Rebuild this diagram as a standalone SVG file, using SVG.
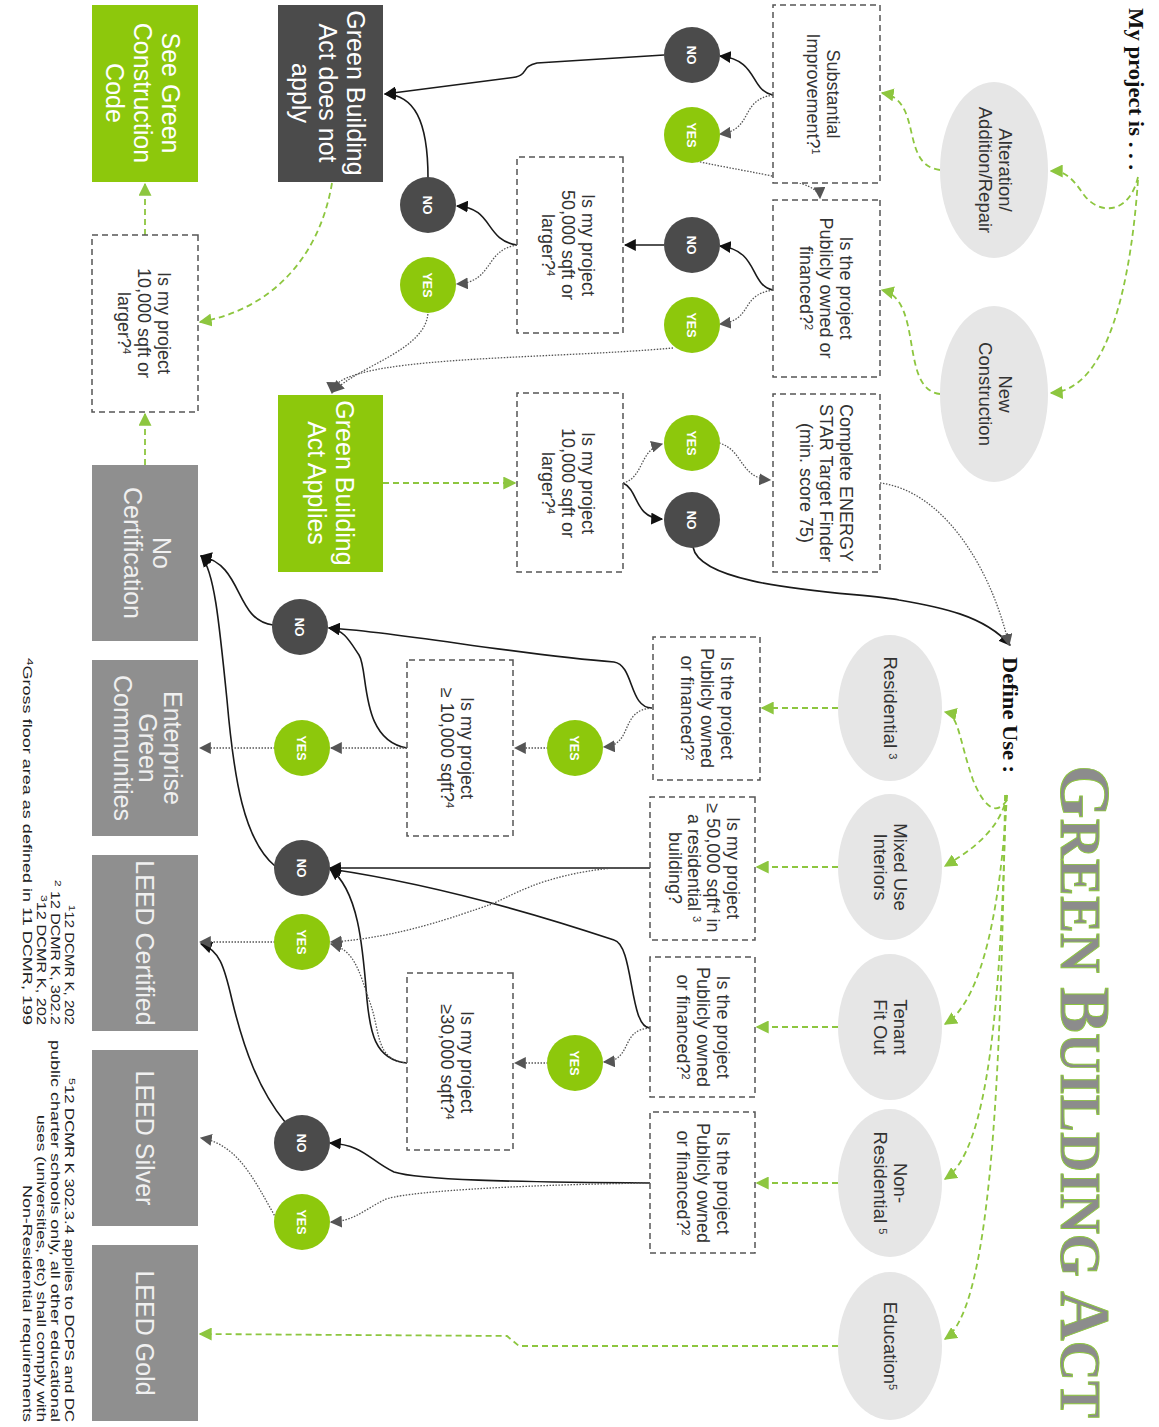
<svg xmlns="http://www.w3.org/2000/svg" width="1159" height="1427" viewBox="0 0 1159 1427">
<defs>
<style>
.t{font-family:"Liberation Sans",Arial,sans-serif;font-size:18px;fill:#333;text-anchor:middle}
.te{font-family:"Liberation Sans",Arial,sans-serif;font-size:18.5px;fill:#333;text-anchor:middle}
.big{font-family:"Liberation Sans",Arial,sans-serif;font-size:25px;fill:#fff;text-anchor:middle}
.bigl{font-family:"Liberation Sans",Arial,sans-serif;font-size:25px;fill:#f0f0f0;text-anchor:middle}
.c{font-family:"Liberation Sans",Arial,sans-serif;font-size:12.5px;font-weight:bold;fill:#fff;text-anchor:middle}
.q{fill:#fff;stroke:#555;stroke-width:1.5;stroke-dasharray:6 4}
.ell{fill:#e6e6e6}
.no{fill:#4b4b4b}
.yes{fill:#8dc80c}
.dk{fill:#4b4b4b}
.gr{fill:#8dc80c}
.gy{fill:#8f8f8f}
.s{fill:none;stroke:#1a1a1a;stroke-width:1.6;marker-end:url(#ab)}
.d{fill:none;stroke:#555;stroke-width:1.3;stroke-dasharray:1.5 1.5;marker-end:url(#ad)}
.g{fill:none;stroke:#8dc63f;stroke-width:1.8;stroke-dasharray:6 4;marker-end:url(#ag)}
.fn{font-family:"Liberation Sans",Arial,sans-serif;font-size:12px;fill:#222}
.hd{font-family:"Liberation Serif","Times New Roman",serif;font-weight:bold;fill:#111}
.sup{font-size:11px}
.fsup{font-size:9px}
</style>
<marker id="ab" viewBox="0 0 10 10" refX="9" refY="5" markerWidth="12" markerHeight="12" markerUnits="userSpaceOnUse" orient="auto"><path d="M0,0 L10,5 L0,10 z" fill="#111"/></marker>
<marker id="ad" viewBox="0 0 10 10" refX="9" refY="5" markerWidth="12" markerHeight="12" markerUnits="userSpaceOnUse" orient="auto"><path d="M0,0 L10,5 L0,10 z" fill="#555"/></marker>
<marker id="ag" viewBox="0 0 10 10" refX="9" refY="5" markerWidth="13" markerHeight="13" markerUnits="userSpaceOnUse" orient="auto"><path d="M0,0 L10,5 L0,10 z" fill="#8dc63f"/></marker>
</defs>
<rect width="1159" height="1427" fill="#fff"/>
<g transform="translate(1159,0) rotate(90)">

<g id="title">
<text x="765" y="98" font-family="Liberation Serif,'Times New Roman',serif" font-weight="bold" fill="#8c8c8c" stroke="#8dc63f" stroke-width="1" textLength="653" lengthAdjust="spacingAndGlyphs"><tspan font-size="72">G</tspan><tspan font-size="58">REEN </tspan><tspan font-size="72">B</tspan><tspan font-size="58">UILDING </tspan><tspan font-size="72">A</tspan><tspan font-size="58">CT</tspan></text>
</g>

<g id="connectors">
<path class="g" d="M177,21 C215,30 215,60 195,75 C176,88 171,95 171,108"/>
<path class="g" d="M180,21 C280,28 390,50 393,108"/>
<path class="g" d="M170,219 C165,260 100,235 93,277"/>
<path class="g" d="M394,219 C389,260 300,235 290,277"/>
<path class="g" d="M800,152 C820,165 800,178 780,186 C740,200 715,200 712,214"/>
<path class="g" d="M795,152 C830,158 852,190 866,214"/>
<path class="g" d="M795,152 C900,158 1000,175 1024,214"/>
<path class="g" d="M795,153 C1000,158 1150,170 1179,214"/>
<path class="g" d="M795,154 C1100,158 1310,170 1339,214"/>
<path class="g" d="M708,321 L708,397"/>
<path class="g" d="M867,321 L867,402"/>
<path class="g" d="M1027,321 L1027,402"/>
<path class="g" d="M1183,321 L1183,402"/>
<path class="g" d="M1346,321 L1346,640 L1336,652 L1334,959"/>
<path class="g" d="M483,776 L483,644"/>
<path class="g" d="M183,827 C260,840 310,890 322,959"/>
<path class="g" d="M235,1014 L184,1014"/>
<path class="g" d="M465,1014 L414,1014"/>
<path class="s" d="M95,386 C90,410 60,400 56,439"/>
<path class="s" d="M290,386 C285,410 250,400 246,439"/>
<path class="s" d="M55,495 L63,622 C67,640 76,628 78,650 L94,774"/>
<path class="s" d="M245,495 L245,534"/>
<path class="s" d="M245,642 C240,675 208,665 206,702"/>
<path class="s" d="M178,731 C120,731 95,745 94,774"/>
<path class="s" d="M483,536 C490,520 518,525 519,497"/>
<path class="s" d="M547,466 C590,458 592,300 600,260 C607,220 615,175 645,149"/>
<path class="s" d="M708,507 C708,530 665,525 662,545 C655,640 632,760 628,830"/>
<path class="s" d="M748,752 C740,800 670,790 655,800 C640,810 630,815 628,830"/>
<path class="s" d="M625,886 C620,925 565,915 556,958"/>
<path class="s" d="M868,509 L868,829"/>
<path class="s" d="M1028,509 C1028,530 945,525 940,545 C915,620 885,720 869,829"/>
<path class="s" d="M1063,752 C1060,785 1030,789 1000,792 C950,796 890,800 869,829"/>
<path class="s" d="M866,884 C840,915 780,925 700,932 C620,940 570,945 556,958"/>
<path class="s" d="M1183,509 C1182,650 1180,740 1172,765 C1160,790 1145,795 1143,829"/>
<path class="s" d="M1122,874 C1090,900 1050,915 1000,927 C965,935 950,940 944,958"/>
<path class="d" d="M95,386 C100,420 130,405 134,439"/>
<path class="d" d="M160,468 C175,400 180,340 198,339"/>
<path class="d" d="M290,386 C295,420 320,405 324,439"/>
<path class="d" d="M348,486 C360,620 355,826 393,827"/>
<path class="d" d="M245,642 C250,675 282,665 284,702"/>
<path class="d" d="M311,731 C350,731 365,800 392,826"/>
<path class="d" d="M483,536 C478,515 450,520 444,497"/>
<path class="d" d="M443,440 C450,415 478,420 480,389"/>
<path class="d" d="M483,279 C490,220 560,170 645,150"/>
<path class="d" d="M708,507 C710,540 745,525 747,555"/>
<path class="d" d="M748,611 L748,644"/>
<path class="d" d="M748,752 L748,828"/>
<path class="d" d="M748,884 L748,959"/>
<path class="d" d="M868,509 L868,546 C875,620 898,650 905,670 C915,700 938,760 942,828"/>
<path class="d" d="M1028,509 C1030,540 1060,525 1062,555"/>
<path class="d" d="M1063,611 L1063,644"/>
<path class="d" d="M1063,752 C1060,785 1030,778 1000,790 C970,800 950,805 944,828"/>
<path class="d" d="M942,884 L942,959"/>
<path class="d" d="M1183,509 C1185,650 1192,760 1200,775 C1210,795 1221,805 1222,828"/>
<path class="d" d="M1218,883 C1180,905 1145,920 1138,958"/>
</g>

<g id="my-project"><text class="hd" x="8" y="30" font-size="20" textLength="162" lengthAdjust="spacingAndGlyphs">My project is . . .</text></g>
<g id="define-use"><text class="hd" x="657" y="156" font-size="22" textLength="116" lengthAdjust="spacingAndGlyphs">Define Use :</text></g>

<g id="alteration"><ellipse class="ell" cx="170" cy="165" rx="88" ry="54"/><text class="te"><tspan x="170" y="160">Alteration/</tspan><tspan x="170" y="180">Addition/Repair</tspan></text></g>
<g id="new-construction"><ellipse class="ell" cx="394" cy="165" rx="88" ry="54"/><text class="te"><tspan x="394" y="160">New</tspan><tspan x="394" y="180">Construction</tspan></text></g>

<g id="substantial"><rect class="q" x="5" y="279" width="178" height="107"/><text class="t"><tspan x="94" y="332">Substantial</tspan><tspan x="94" y="352">Improvement?<tspan class="sup" dy="-5">1</tspan></tspan></text></g>
<g id="public1"><rect class="q" x="200" y="279" width="177" height="107"/><text class="t"><tspan x="288" y="319">Is the project</tspan><tspan x="288" y="339">Publicly owned or</tspan><tspan x="288" y="359">financed?<tspan class="sup" dy="-5">2</tspan></tspan></text></g>
<g id="energy-star"><rect class="q" x="394" y="279" width="178" height="107"/><text class="t"><tspan x="483" y="319">Complete ENERGY</tspan><tspan x="483" y="339" textLength="158" lengthAdjust="spacingAndGlyphs">STAR Target Finder</tspan><tspan x="483" y="359">(min. score 75)</tspan></text></g>

<g id="no-a"><circle class="no" cx="55" cy="467" r="28"/><text class="c" x="55" y="472">NO</text></g>
<g id="yes-a"><circle class="yes" cx="135" cy="467" r="28"/><text class="c" x="135" y="472">YES</text></g>
<g id="no-b"><circle class="no" cx="245" cy="467" r="28"/><text class="c" x="245" y="472">NO</text></g>
<g id="yes-b"><circle class="yes" cx="325" cy="467" r="28"/><text class="c" x="325" y="472">YES</text></g>
<g id="yes-c"><circle class="yes" cx="443" cy="467" r="28"/><text class="c" x="443" y="472">YES</text></g>
<g id="no-c"><circle class="no" cx="520" cy="467" r="28"/><text class="c" x="520" y="472">NO</text></g>

<g id="q50k"><rect class="q" x="157" y="536" width="176" height="106"/><text class="t"><tspan x="245" y="577">Is my project</tspan><tspan x="245" y="597">50,000 sqft or</tspan><tspan x="245" y="617">larger?<tspan class="sup" dy="-5">4</tspan></tspan></text></g>
<g id="q10k-mid"><rect class="q" x="393" y="536" width="179" height="106"/><text class="t"><tspan x="483" y="577">Is my project</tspan><tspan x="483" y="597">10,000 sqft or</tspan><tspan x="483" y="617">larger?<tspan class="sup" dy="-5">4</tspan></tspan></text></g>

<g id="no-d"><circle class="no" cx="205" cy="731" r="28"/><text class="c" x="205" y="736">NO</text></g>
<g id="yes-d"><circle class="yes" cx="285" cy="731" r="28"/><text class="c" x="285" y="736">YES</text></g>

<g id="does-not-apply"><rect class="dk" x="5" y="776" width="177" height="105"/><text class="big"><tspan x="93" y="812">Green Building</tspan><tspan x="93" y="840">Act does not</tspan><tspan x="93" y="867">apply</tspan></text></g>
<g id="act-applies"><rect class="gr" x="395" y="776" width="177" height="105"/><text class="big"><tspan x="483" y="823">Green Building</tspan><tspan x="483" y="851">Act Applies</tspan></text></g>

<g id="see-green"><rect class="gr" x="5" y="961" width="177" height="106"/><text class="big"><tspan x="93" y="997">See Green</tspan><tspan x="93" y="1025">Construction</tspan><tspan x="93" y="1053">Code</tspan></text></g>
<g id="q10k-left"><rect class="q" x="235" y="961" width="177" height="106"/><text class="t"><tspan x="323" y="1001">Is my project</tspan><tspan x="323" y="1021">10,000 sqft or</tspan><tspan x="323" y="1041">larger?<tspan class="sup" dy="-5">4</tspan></tspan></text></g>
<g id="no-cert"><rect class="gy" x="465" y="961" width="176" height="106"/><text class="bigl"><tspan x="553" y="1006">No</tspan><tspan x="553" y="1035">Certification</tspan></text></g>
<g id="enterprise"><rect class="gy" x="660" y="961" width="176" height="106"/><text class="bigl" font-size="24"><tspan x="748" y="995">Enterprise</tspan><tspan x="748" y="1020">Green</tspan><tspan x="748" y="1045">Communities</tspan></text></g>
<g id="leed-certified"><rect class="gy" x="855" y="961" width="176" height="106"/><text class="bigl" x="943" y="1023">LEED Certified</text></g>
<g id="leed-silver"><rect class="gy" x="1050" y="961" width="176" height="106"/><text class="bigl" x="1138" y="1023">LEED Silver</text></g>
<g id="leed-gold"><rect class="gy" x="1245" y="961" width="176" height="106"/><text class="bigl" x="1333" y="1023">LEED Gold</text></g>

<g id="residential"><ellipse class="ell" cx="708" cy="269" rx="73" ry="52"/><text class="te" x="708" y="275">Residential <tspan class="sup" dy="-5">3</tspan></text></g>
<g id="mixed-use"><ellipse class="ell" cx="867" cy="269" rx="73" ry="52"/><text class="te"><tspan x="867" y="265">Mixed Use</tspan><tspan x="867" y="285">Interiors</tspan></text></g>
<g id="tenant"><ellipse class="ell" cx="1027" cy="269" rx="73" ry="52"/><text class="te"><tspan x="1027" y="265">Tenant</tspan><tspan x="1027" y="285">Fit Out</tspan></text></g>
<g id="non-residential"><ellipse class="ell" cx="1183" cy="269" rx="74" ry="52"/><text class="te"><tspan x="1183" y="265">Non-</tspan><tspan x="1183" y="285">Residential <tspan class="sup" dy="-5">5</tspan></tspan></text></g>
<g id="education"><ellipse class="ell" cx="1346" cy="269" rx="74" ry="52"/><text class="te" x="1346" y="275">Education<tspan class="sup" dy="-5">5</tspan></text></g>

<g id="q-pub-res"><rect class="q" x="637" y="399" width="143" height="107"/><text class="t"><tspan x="708" y="438">Is the project</tspan><tspan x="708" y="458">Publicly owned</tspan><tspan x="708" y="478">or financed?<tspan class="sup" dy="-5">2</tspan></tspan></text></g>
<g id="q-mixed"><rect class="q" x="797" y="404" width="143" height="105"/><text class="t"><tspan x="868" y="432">Is my project</tspan><tspan x="868" y="452">≥ 50,000 sqft<tspan class="sup" dy="-5">4</tspan><tspan dy="5"> in</tspan></tspan><tspan x="868" y="471">a residential <tspan class="sup" dy="-5">3</tspan></tspan><tspan x="868" y="490">building?</tspan></text></g>
<g id="q-pub-ten"><rect class="q" x="957" y="404" width="140" height="105"/><text class="t"><tspan x="1027" y="442">Is the project</tspan><tspan x="1027" y="462">Publicly owned</tspan><tspan x="1027" y="482">or financed?<tspan class="sup" dy="-5">2</tspan></tspan></text></g>
<g id="q-pub-nr"><rect class="q" x="1112" y="404" width="141" height="105"/><text class="t"><tspan x="1183" y="442">Is the project</tspan><tspan x="1183" y="462">Publicly owned</tspan><tspan x="1183" y="482">or financed?<tspan class="sup" dy="-5">2</tspan></tspan></text></g>

<g id="yes-e"><circle class="yes" cx="748" cy="584" r="28"/><text class="c" x="748" y="589">YES</text></g>
<g id="yes-f"><circle class="yes" cx="1063" cy="584" r="28"/><text class="c" x="1063" y="589">YES</text></g>

<g id="q10k-b"><rect class="q" x="660" y="646" width="176" height="106"/><text class="t"><tspan x="748" y="698">Is my project</tspan><tspan x="748" y="718">≥ 10,000 sqft?<tspan class="sup" dy="-5">4</tspan></tspan></text></g>
<g id="q30k"><rect class="q" x="973" y="646" width="177" height="106"/><text class="t"><tspan x="1062" y="698">Is my project</tspan><tspan x="1062" y="718">≥30,000 sqft?<tspan class="sup" dy="-5">4</tspan></tspan></text></g>

<g id="no-e"><circle class="no" cx="627" cy="859" r="28"/><text class="c" x="627" y="864">NO</text></g>
<g id="yes-g"><circle class="yes" cx="748" cy="857" r="28"/><text class="c" x="748" y="862">YES</text></g>
<g id="no-f"><circle class="no" cx="868" cy="857" r="28"/><text class="c" x="868" y="862">NO</text></g>
<g id="yes-h"><circle class="yes" cx="942" cy="857" r="28"/><text class="c" x="942" y="862">YES</text></g>
<g id="no-g"><circle class="no" cx="1143" cy="857" r="28"/><text class="c" x="1143" y="862">NO</text></g>
<g id="yes-i"><circle class="yes" cx="1222" cy="857" r="28"/><text class="c" x="1222" y="862">YES</text></g>

<g id="footnotes">
<text class="fn" x="905" y="1094" textLength="120" lengthAdjust="spacingAndGlyphs"><tspan class="fsup" dy="-4">1</tspan><tspan dy="4">12 DCMR K, 202</tspan></text>
<text class="fn" x="880" y="1108" textLength="145" lengthAdjust="spacingAndGlyphs"><tspan class="fsup" dy="-4">2</tspan><tspan dy="4"> 12 DCMR K, 302.2</tspan></text>
<text class="fn" x="895" y="1122" textLength="130" lengthAdjust="spacingAndGlyphs"><tspan class="fsup" dy="-4">3</tspan><tspan dy="4">12 DCMR K, 202</tspan></text>
<text class="fn" x="658" y="1136" textLength="367" lengthAdjust="spacingAndGlyphs"><tspan class="fsup" dy="-4">4</tspan><tspan dy="4">Gross floor area as defined in 11 DCMR, 199</tspan></text>
<text class="fn" x="1078" y="1094" textLength="344" lengthAdjust="spacingAndGlyphs"><tspan class="fsup" dy="-4">5</tspan><tspan dy="4">12 DCMR K 302.3.4 applies to DCPS and DC</tspan></text>
<text class="fn" x="1040" y="1108" textLength="382" lengthAdjust="spacingAndGlyphs">public charter schools only, all other educational</text>
<text class="fn" x="1115" y="1122" textLength="307" lengthAdjust="spacingAndGlyphs">uses (universities, etc) shall comply with</text>
<text class="fn" x="1185" y="1136" textLength="237" lengthAdjust="spacingAndGlyphs">Non-Residential requirements</text>
</g>
</g>
</svg>
